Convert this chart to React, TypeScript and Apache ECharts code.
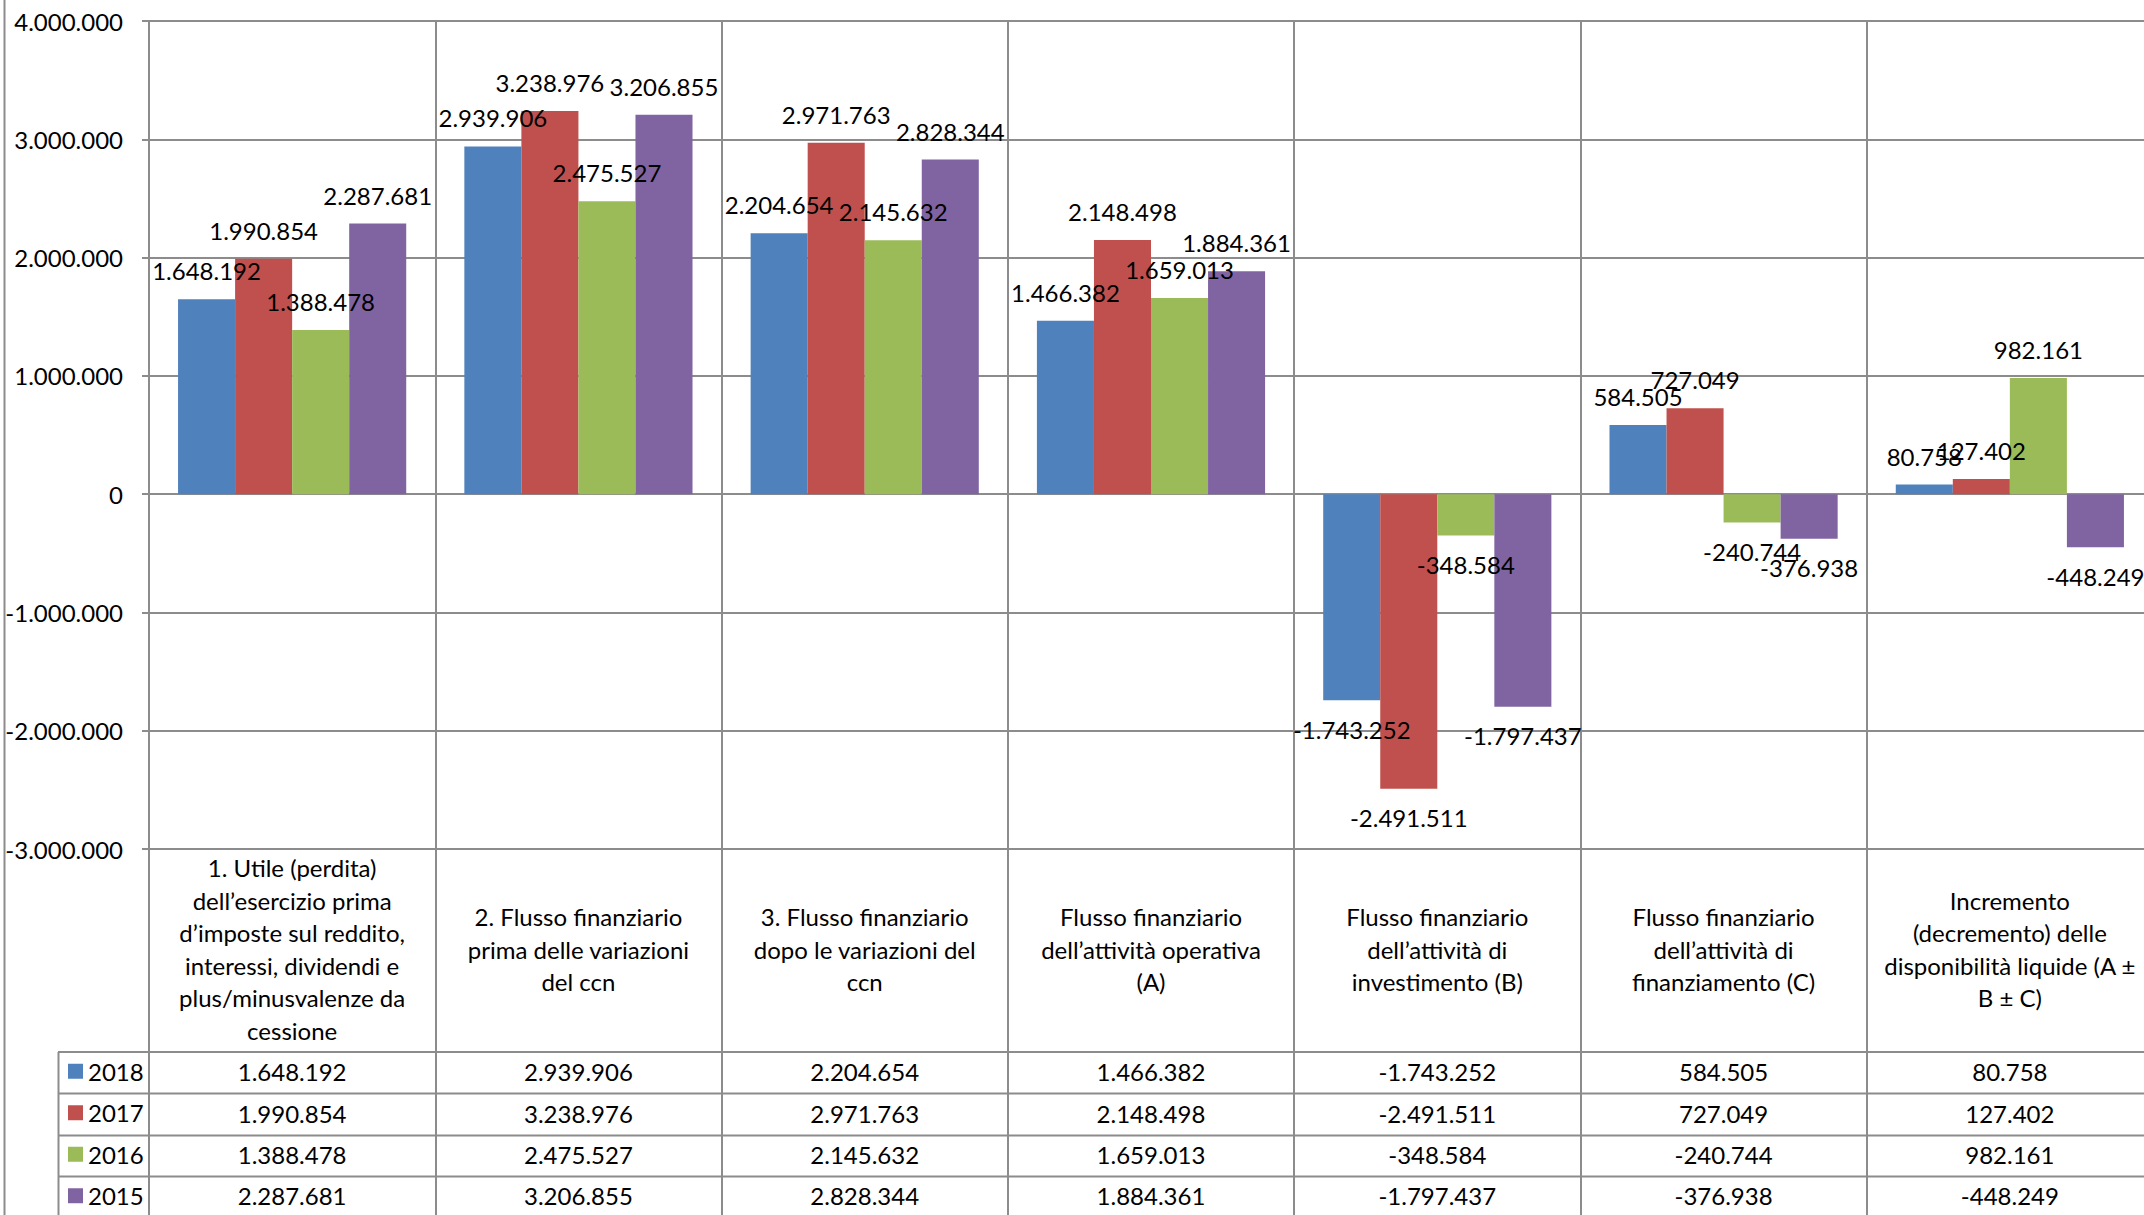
import React, { useEffect, useRef } from "react";
import * as echarts from "echarts";

const categories = [
  "1. Utile (perdita)\ndell’esercizio prima\nd’imposte sul reddito,\ninteressi, dividendi e\nplus/minusvalenze da\ncessione",
  "2. Flusso finanziario\nprima delle variazioni\ndel ccn",
  "3. Flusso finanziario\ndopo le variazioni del\nccn",
  "Flusso finanziario\ndell’attività operativa\n(A)",
  "Flusso finanziario\ndell’attività di\ninvestimento (B)",
  "Flusso finanziario\ndell’attività di\nfinanziamento (C)",
  "Incremento\n(decremento) delle\ndisponibilità liquide (A ±\nB ± C)",
];

const years = ["2018", "2017", "2016", "2015"];
const s2018 = [1648192, 2939906, 2204654, 1466382, -1743252, 584505, 80758];
const s2017 = [1990854, 3238976, 2971763, 2148498, -2491511, 727049, 127402];
const s2016 = [1388478, 2475527, 2145632, 1659013, -348584, -240744, 982161];
const s2015 = [2287681, 3206855, 2828344, 1884361, -1797437, -376938, -448249];
const seriesValues = [s2018, s2017, s2016, s2015];
const colors = ["#4F81BD", "#C0504D", "#9BBB59", "#8064A2"];

const yMin = -3000000;
const yMax = 4000000;
const yStep = 1000000;

const fmt = (v: number) =>
  (v < 0 ? "-" : "") + Math.abs(Math.round(v)).toString().replace(/\B(?=(\d{3})+(?!\d))/g, ".");

const FONT = "Lato, 'Open Sans', sans-serif";
const GRAY = "#8C8C8C";

export default function App() {
  const ref = useRef<HTMLDivElement>(null);

  useEffect(() => {
    if (!ref.current) return;
    const chart = echarts.init(ref.current, undefined, { renderer: "svg" });

    const gridTop = 21;
    const gridHeight = 828;
    const gridBottomY = gridTop + gridHeight; // 849
    const rowLines = [1052, 1093.5, 1135.5, 1176.5, 1218];
    const rowCenters = rowLines.slice(0, 4).map((y, i) => (y + rowLines[i + 1]) / 2);
    const headerCenter = (gridBottomY + rowLines[0]) / 2;
    const textLift = 1.5;

    const rowAxes = seriesValues.map((vals, k) => ({
      type: "category" as const,
      gridIndex: 0,
      position: "bottom" as const,
      data: categories,
      axisLine: { show: false, onZero: false },
      axisTick: { show: false },
      splitLine: { show: false },
      axisLabel: {
        interval: 0,
        margin: rowCenters[k] - gridBottomY - textLift,
        verticalAlign: "middle" as const,
        fontSize: 24,
        fontFamily: FONT,
        color: "#000",
        formatter: (_v: string, idx: number) => fmt(vals[idx]),
      },
    }));

    const graphicLines: any[] = rowLines.map((y) => ({
      type: "line",
      shape: { x1: 58, y1: y, x2: 2170, y2: y },
      style: { stroke: GRAY, lineWidth: 2 },
      silent: true,
    }));
    graphicLines.push({
      type: "line",
      shape: { x1: 58.5, y1: rowLines[0], x2: 58.5, y2: 1240 },
      style: { stroke: GRAY, lineWidth: 2 },
      silent: true,
    });
    graphicLines.push({
      type: "line",
      shape: { x1: 4.5, y1: 0, x2: 4.5, y2: 1240 },
      style: { stroke: GRAY, lineWidth: 2 },
      silent: true,
    });

    chart.setOption({
      animation: false,
      backgroundColor: "#fff",
      textStyle: { fontFamily: FONT },
      grid: { left: 149, top: gridTop, width: 2004, height: gridHeight, containLabel: false },
      legend: {
        orient: "vertical",
        left: 68,
        top: rowLines[0] - textLift,
        padding: 0,
        itemGap: 0,
        itemWidth: 15,
        itemHeight: 15,
        icon: "rect",
        data: years,
        textStyle: { fontSize: 24, fontFamily: FONT, color: "#000", lineHeight: 41.5 },
      },
      xAxis: [
        {
          type: "category",
          gridIndex: 0,
          position: "bottom",
          data: categories,
          axisLine: { show: false, onZero: false },
          axisTick: {
            show: true,
            interval: 0,
            length: 400,
            lineStyle: { color: GRAY, width: 2 },
          },
          splitLine: { show: true, interval: 0, lineStyle: { color: GRAY, width: 2 } },
          axisLabel: {
            interval: 0,
            margin: headerCenter - gridBottomY - textLift,
            verticalAlign: "middle",
            align: "center",
            fontSize: 24,
            lineHeight: 32.5,
            fontFamily: FONT,
            color: "#000",
          },
        },
        ...rowAxes,
      ],
      yAxis: {
        type: "value",
        min: yMin,
        max: yMax,
        interval: yStep,
        axisLine: { show: false },
        axisTick: { show: true, length: 7, lineStyle: { color: GRAY, width: 2 } },
        splitLine: { show: true, lineStyle: { color: GRAY, width: 2 } },
        axisLabel: {
          margin: 26,
          fontSize: 24,
          fontFamily: FONT,
          color: "#000",
          padding: [0, 0, 3, 0],
          formatter: (v: number) => fmt(v),
        },
      },
      series: seriesValues.map((vals, k) => ({
        name: years[k],
        type: "bar",
        xAxisIndex: 0,
        yAxisIndex: 0,
        barGap: "0%",
        barCategoryGap: "20.3%",
        itemStyle: { color: colors[k] },
        label: {
          show: true,
          fontSize: 24,
          fontFamily: FONT,
          color: "#000",
          formatter: (p: any) => fmt(p.value),
        },
        data: vals.map((v) => ({
          value: v,
          label: { position: v < 0 ? "bottom" : "top", distance: v < 0 ? 17 : 16.5 },
        })),
      })),
      graphic: graphicLines,
    });

    return () => chart.dispose();
  }, []);

  return (
    <div
      ref={ref}
      style={{ position: "fixed", left: 0, top: 0, width: 2170, height: 1240, background: "#fff" }}
    />
  );
}
